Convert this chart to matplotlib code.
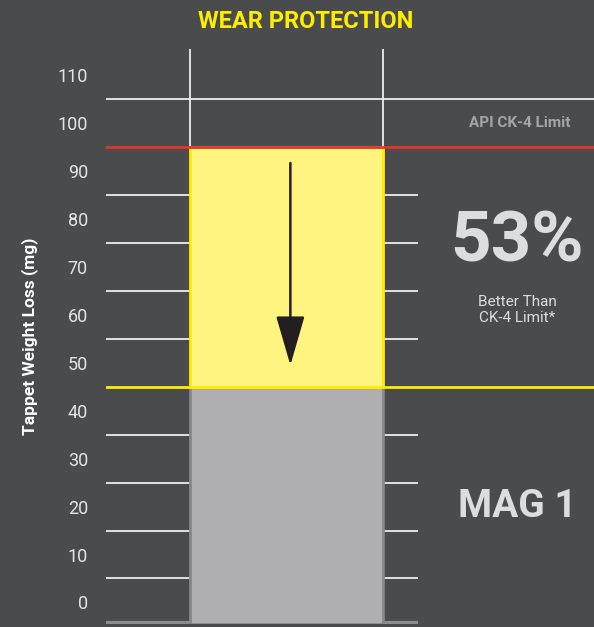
import matplotlib
matplotlib.use('Agg')
import matplotlib.pyplot as plt
import numpy as np

# Datos
categories = ['MAG 1']
api_ck4_limit = 95
mag1_loss = 45
tick_values = list(range(0, 120, 10))
grid_values = [5, 15, 25, 35, 55, 65, 75, 85]

bg = '#4a4b4d'
plt.rcParams['font.family'] = ['Roboto', 'DejaVu Sans']

fig = plt.figure(figsize=(5.94, 6.27), dpi=100, facecolor=bg)
ax = fig.add_axes([0.1785, 0.0048, 0.8215, 0.9171])
ax.set_facecolor(bg)

ymin, ymax = -4.5, 115.5
x0 = 0

# Lineas de grilla (detras de la barra)
ax.hlines(grid_values, -0.95, 0.68, color='#ececec', lw=1.3, zorder=1)
ax.hlines(105, -0.95, 1.6, color='#ececec', lw=1.3, zorder=1)
ax.hlines(ymin + 0.3, -0.95, 0.68, color='#8c8c8e', lw=3, zorder=1)
ax.vlines([x0 - 0.5, x0 + 0.5], api_ck4_limit, ymax, color='#ececec', lw=1.3, zorder=1)

# Barras
ax.bar(x0, mag1_loss - ymin, bottom=ymin, width=1.0, color='#afafb1',
       edgecolor='#87878a', lw=2, zorder=2)
ax.bar(x0, api_ck4_limit - mag1_loss, bottom=mag1_loss, width=1.0, color='#fff47f',
       edgecolor='#ffed00', lw=2, zorder=3)

# Limites
ax.axhline(api_ck4_limit, color='#e8322a', lw=2, zorder=4)
ax.axhline(mag1_loss, color='#ffed00', lw=2, zorder=4)

# Flecha
ax.annotate('', xy=(x0 + 0.02, mag1_loss + 4.5), xytext=(x0 + 0.02, api_ck4_limit - 3.3),
            arrowprops=dict(arrowstyle='-|>,head_length=3.1,head_width=0.9',
                            color='#231f20', lw=1.8, shrinkA=0, shrinkB=0), zorder=5)

# Textos a la derecha
xr = 1.194
ax.text(xr + 0.015, 100, 'API CK-4 Limit', color='#a5a6a8', fontsize=11,
        fontweight='bold', ha='center', va='center')
ax.text(xr, 75.2, '53%', color='#dcddde', fontsize=51, fontweight='bold',
        ha='center', va='center')
ax.text(xr, 61, 'Better Than\nCK-4 Limit*', color='#dcddde', fontsize=11,
        ha='center', va='center', linespacing=1.2)
ax.text(xr, 20, categories[0], color='#dcddde', fontsize=28, fontweight='bold',
        ha='center', va='center')

ax.set_xlim(-0.935, 1.593)
ax.set_ylim(ymin, ymax)
ax.set_yticks(tick_values)
ax.set_yticklabels([str(v) for v in tick_values])
ax.tick_params(axis='y', length=0, pad=13, labelsize=13, labelcolor='#e4e4e4')
ax.set_xticks([])
for s in ax.spines.values():
    s.set_visible(False)

ax.set_ylabel('Tappet Weight Loss (mg)', color='white', fontsize=12.5,
              fontweight='bold', labelpad=14)

fig.text(0.515, 0.966, 'WEAR PROTECTION', color='#ffed00', fontsize=17,
         fontweight='bold', ha='center', va='center')

fig.savefig('out.png', dpi=100, facecolor=bg)
